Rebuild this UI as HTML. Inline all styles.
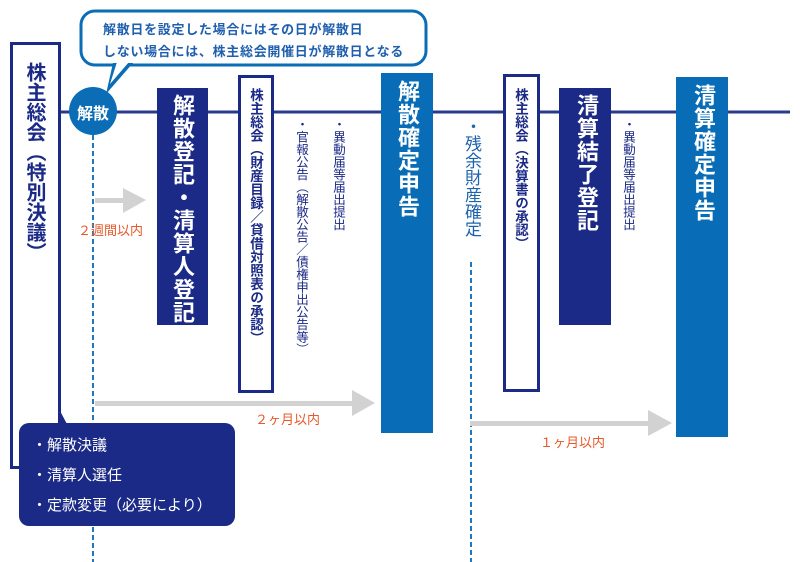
<!DOCTYPE html>
<html><head><meta charset="utf-8"><style>
body{margin:0;width:800px;height:562px;background:#fff;position:relative;overflow:hidden;font-family:"Liberation Sans","Noto Sans CJK JP",sans-serif}
.a{position:absolute}
.v{writing-mode:vertical-rl;text-orientation:upright;white-space:nowrap}
.nav{background:#1b2a87}
.blu{background:#086db6}
.wb{background:#fff;border:3px solid #1b2a87;box-sizing:border-box}
.wt{color:#fff;font-weight:bold;font-size:22px;letter-spacing:1px}
.nt{color:#1b2a87;font-weight:bold}
.sm{color:#1b2a87;font-size:12.5px;line-height:13px}
.or{color:#e8582a;font-size:13px}
</style></head><body>
<svg class="a" style="left:0;top:0" width="800" height="562">
<line x1="60" y1="112" x2="790" y2="112" stroke="#2a3a8e" stroke-width="3"/>
<line x1="93" y1="135" x2="93" y2="562" stroke="#1f78c0" stroke-width="2" stroke-dasharray="5,3"/>
<line x1="471" y1="262" x2="471" y2="562" stroke="#1f78c0" stroke-width="2" stroke-dasharray="5,3"/>
<rect x="95" y="198" width="30" height="5" fill="#d2d2d2"/><polygon points="123,188 146,200 123,213" fill="#d2d2d2"/>
<rect x="95" y="401" width="260" height="5" fill="#d2d2d2"/><polygon points="352,390 375,403 352,416" fill="#d2d2d2"/>
<rect x="470" y="421" width="182" height="5" fill="#d2d2d2"/><polygon points="648,410 672,423 648,436" fill="#d2d2d2"/>
<rect x="81" y="11" width="345" height="54" rx="14" fill="#fff" stroke="#0b6db5" stroke-width="3"/>
<polygon points="113,63 133,63 106,94" fill="#0b6db5"/>
<polygon points="117,62 129,62 110,84" fill="#fff"/>
<circle cx="93" cy="111" r="24" fill="#0b6db5"/>
<polygon points="40,373 48,426 68,426" fill="#1b2a87"/>
</svg>
<div class="a" style="left:103px;top:19px;color:#1f5fae;font-size:13px;line-height:22px;font-weight:bold;letter-spacing:0.7px">解散日を設定した場合にはその日が解散日<br>しない場合には、株主総会開催日が解散日となる</div>
<div class="a" style="left:72px;top:100px;width:42px;text-align:center;color:#fff;font-size:16px;font-weight:bold">解散</div>
<div class="a wb" style="left:10px;top:42px;width:51px;height:427px"></div>
<div class="a v nt" style="left:22px;top:62px;font-size:20px;line-height:24px">株主総会（特別決議）</div>
<div class="a nav" style="left:157px;top:88px;width:51px;height:237px"></div>
<div class="a v wt" style="left:170px;top:94px;line-height:24px">解散登記・清算人登記</div>
<div class="a or" style="left:78px;top:220px">２週間以内</div>
<div class="a wb" style="left:238px;top:75px;width:36px;height:318px"></div>
<div class="a v nt" style="left:247px;top:88px;font-size:13.5px;line-height:16px">株主総会（財産目録／貸借対照表の承認）</div>
<div class="a v sm" style="left:294px;top:118px">・官報公告（解散公告／債権申出公告等）</div>
<div class="a v sm" style="left:331px;top:118px">・異動届等届出提出</div>
<div class="a blu" style="left:381px;top:73px;width:52px;height:360px"></div>
<div class="a v wt" style="left:395px;top:80px;line-height:24px">解散確定申告</div>
<div class="a or" style="left:255px;top:409px">２ヶ月以内</div>
<div class="a v" style="left:462px;top:118px;color:#1f63ad;font-size:17px;line-height:19px">・残余財産確定</div>
<div class="a wb" style="left:503px;top:74px;width:37px;height:318px"></div>
<div class="a v nt" style="left:512px;top:88px;font-size:13.5px;line-height:16px">株主総会（決算書の承認）</div>
<div class="a nav" style="left:559px;top:88px;width:52px;height:237px"></div>
<div class="a v wt" style="left:574px;top:94px;line-height:24px">清算結了登記</div>
<div class="a v sm" style="left:621px;top:118px">・異動届等届出提出</div>
<div class="a blu" style="left:676px;top:77px;width:52px;height:360px"></div>
<div class="a v wt" style="left:691px;top:84px;line-height:24px">清算確定申告</div>
<div class="a or" style="left:540px;top:432px">１ヶ月以内</div>
<div class="a nav" style="left:19px;top:423px;width:216px;height:103px;border-radius:10px"></div>
<div class="a" style="left:32px;top:431px;color:#fff;font-size:15px;line-height:30px">・解散決議<br>・清算人選任<br>・定款変更（必要により）</div>
</body></html>
